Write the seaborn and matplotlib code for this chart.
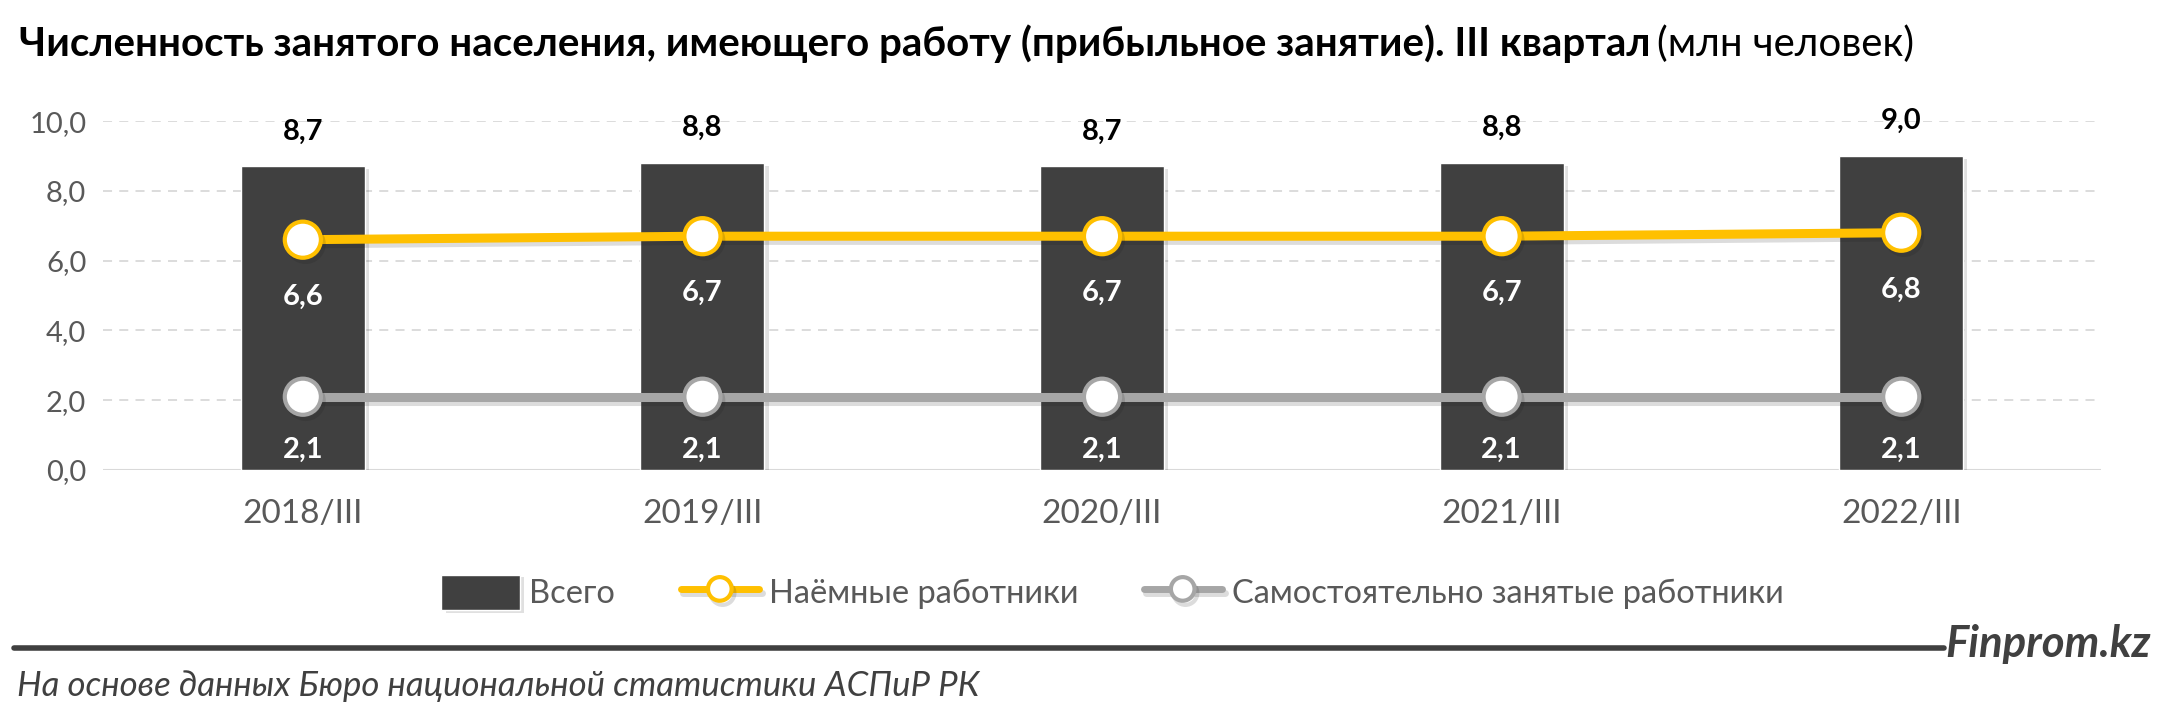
import matplotlib
matplotlib.use("Agg")
import matplotlib.pyplot as plt
import matplotlib.patheffects as pe
import seaborn as sns
import pandas as pd

# data
quarters = ["2018/III", "2019/III", "2020/III", "2021/III", "2022/III"]
total = [8.7, 8.8, 8.7, 8.8, 9.0]
hired = [6.6, 6.7, 6.7, 6.7, 6.8]
self_employed = [2.1, 2.1, 2.1, 2.1, 2.1]

df = pd.DataFrame({"quarter": quarters, "total": total,
                   "hired": hired, "self": self_employed})

sns.set_theme(style="white")
plt.rcParams["font.family"] = ["Lato", "DejaVu Sans"]

dark = "#404040"
gold = "#FFC000"
grey = "#A6A6A6"

fig = plt.figure(figsize=(21.6, 7.18), dpi=100)
ax = fig.add_axes([0.0477, 0.3454, 0.925, 0.486])

shadow = [pe.SimplePatchShadow(offset=(3, -2), alpha=0.15, rho=0.8), pe.Normal()]

sns.barplot(data=df, x="quarter", y="total", color=dark, width=0.31,
            saturation=1, ax=ax, label="Всего", zorder=2)
for p in ax.patches:
    p.set_path_effects(shadow)

line_kw = dict(marker="o", markersize=26, markerfacecolor="white",
               markeredgewidth=3, linewidth=6.5, zorder=4)
sns.lineplot(data=df, x="quarter", y="hired", color=gold, markeredgecolor=gold,
             label="Наёмные работники", ax=ax,
             path_effects=[pe.SimpleLineShadow(offset=(2, -3), alpha=0.15), pe.Normal()],
             **line_kw)
sns.lineplot(data=df, x="quarter", y="self", color=grey, markeredgecolor=grey,
             label="Самостоятельно занятые работники", ax=ax,
             path_effects=[pe.SimpleLineShadow(offset=(2, -3), alpha=0.15), pe.Normal()],
             **line_kw)

# value labels
def fmt(v):
    return f"{v:.1f}".replace(".", ",")

for i, v in enumerate(total):
    ax.annotate(fmt(v), (i, v), xytext=(0, 25), textcoords="offset points",
                ha="center", va="center", fontsize=21, fontweight="bold",
                color="black", annotation_clip=False)
for i, v in enumerate(hired):
    ax.annotate(fmt(v), (i, v), xytext=(0, -41), textcoords="offset points",
                ha="center", va="center", fontsize=21, fontweight="bold",
                color="white", zorder=5)
for i, v in enumerate(self_employed):
    ax.annotate(fmt(v), (i, v), xytext=(0, -38), textcoords="offset points",
                ha="center", va="center", fontsize=21, fontweight="bold",
                color="white", zorder=5)

ax.set_xlim(-0.5, 4.5)
ax.set_ylim(0, 10)
ticks = [0, 2, 4, 6, 8, 10]
ax.set_yticks(ticks)
ax.set_yticklabels([fmt(t) for t in ticks])
ax.set_xlabel("")
ax.set_ylabel("")
for s in ax.spines.values():
    s.set_visible(False)
ax.yaxis.grid(True, color="#D9D9D9", linestyle=(0, (5, 4)), linewidth=1.3, zorder=0)
ax.set_axisbelow(True)
ax.axhline(0, color="#D9D9D9", linewidth=1.5, zorder=1)
ax.tick_params(axis="y", length=0, pad=12, labelsize=21, labelcolor="#595959")
ax.tick_params(axis="x", length=0, pad=21, labelsize=24, labelcolor="#595959")

handles, labels = ax.get_legend_handles_labels()
order = [labels.index("Всего"), labels.index("Наёмные работники"),
         labels.index("Самостоятельно занятые работники")]
leg = ax.legend([handles[k] for k in order], [labels[k] for k in order],
                loc="center", bbox_to_anchor=(0.515, 0.175),
                bbox_transform=fig.transFigure, ncol=3, frameon=False,
                fontsize=23.5, handlelength=2.4, handleheight=1.3,
                columnspacing=2.0, handletextpad=0.3)
for t in leg.get_texts():
    t.set_color("#595959")
for h in leg.legend_handles:
    if hasattr(h, "set_markersize"):
        h.set_markersize(17)
        h.set_linewidth(5)

# title
t1 = fig.text(0.009, 0.939, "Численность занятого населения, имеющего работу (прибыльное занятие). III квартал",
              fontsize=29, fontweight="bold", color="black", va="center", ha="left")
fig.canvas.draw()
bb = t1.get_window_extent(fig.canvas.get_renderer())
x_end = bb.x1 / fig.bbox.width
fig.text(x_end + 0.003, 0.939, "(млн человек)", fontsize=29, color="black",
         va="center", ha="left")

# footer
fig.add_artist(plt.Line2D([0.0065, 0.9], [0.097, 0.097], color=dark, linewidth=4,
                          transform=fig.transFigure))
fig.text(0.996, 0.103, "Finprom.kz", fontsize=31.5, fontweight="bold", fontstyle="italic",
         color="#404040", ha="right", va="center")
fig.text(0.008, 0.045, "На основе данных Бюро национальной статистики АСПиР РК",
         fontsize=25, fontstyle="italic", color="#404040", ha="left", va="center")

fig.savefig("out.png", dpi=100)
